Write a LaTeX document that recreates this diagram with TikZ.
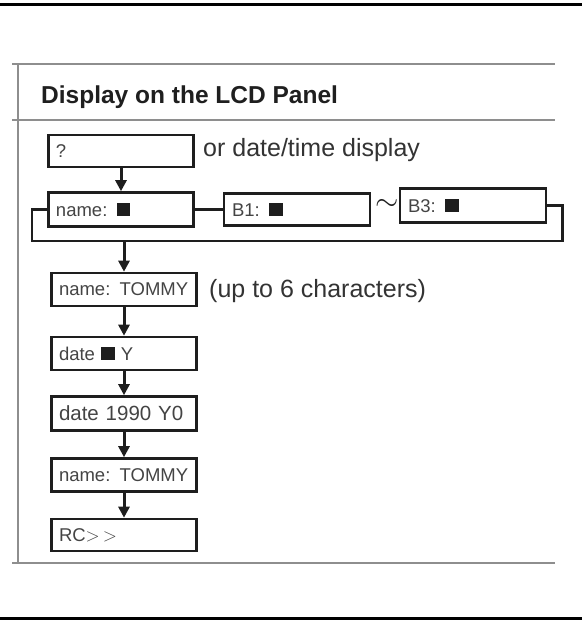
\RequirePackage{fix-cm}
\documentclass[tikz,border=0pt]{standalone}
\usepackage{fontspec}
\setmainfont{Liberation Sans}
\usetikzlibrary{arrows.meta}

\definecolor{cornice}{HTML}{8E8E8E}
\definecolor{bordo}{HTML}{1E1E1E}
\definecolor{testo}{HTML}{444444}
\newcommand{\cursore}{{\color{bordo}\rule{13.5pt}{13.5pt}}}

\begin{document}
\begin{tikzpicture}[x=1pt, y=-1pt,
  riquadro/.style={draw=bordo, line width=2.6pt, minimum width=145pt, minimum height=33pt,
    text width=130pt, align=left, inner sep=0pt, text=testo, font=\fontsize{18.5}{21}\selectfont},
  freccia/.style={draw=bordo, line width=3pt, -{Triangle[length=11pt,width=11pt]}},
  linea/.style={draw=bordo, line width=2.4pt},
  cornice/.style={draw=cornice, line width=2pt},
  didascalia/.style={anchor=base west, inner sep=0pt, text=black!80, font=\fontsize{25}{28}\selectfont}]
\useasboundingbox (0,0) rectangle (582,622);

% Bordi della pagina
\draw[line width=3.3pt] (0,4.5) -- (582,4.5);
\draw[line width=3.3pt] (0,618.5) -- (582,618.5);

% Cornice grigia
\draw[cornice] (12,64) -- (555,64);
\draw[cornice] (12,120) -- (555,120);
\draw[cornice] (18,64) -- (18,563);
\draw[cornice] (12,563) -- (555,563);

% Titolo
\node[anchor=base west, inner sep=0pt, text=black!88, font=\bfseries\fontsize{24.5}{28}\selectfont]
  (titolo) at (41,103) {Display on the LCD Panel};

% Riga superiore
\node[riquadro, minimum height=32pt] (domanda) at (121,151) {?};
\node[didascalia] (oppure) at (203,156) {or date/time display};

% Riga dei nomi: name, B1 ~ B3
\node[riquadro, minimum height=34pt] (nome) at (121,209.5) {name: \cursore};
\node[riquadro, minimum width=146pt, minimum height=32pt] (bituno) at (297,209.5) {B1: \cursore};
\node[text=bordo, inner sep=0pt, font=\fontsize{30}{30}\selectfont] (tilde) at (387,205) {$\sim$};
\node[riquadro, minimum width=146pt, minimum height=34pt] (bitre) at (473,205.5) {B3: \cursore};
\coordinate (anello) at (124,241);

\draw[freccia] (domanda) -- (nome);
\draw[linea] (nome.east) -- (bituno.west);
\draw[linea] (nome.west) -- ++(-15,0) |- (anello);
\draw[linea] (bitre.east) -- ++(15,0) |- (anello);

% Colonna centrale
\node[riquadro] (tommy) at (124,289.5) {name: TOMMY};
\node[didascalia] (caratteri) at (209,297) {(up to 6 characters)};
\node[riquadro] (datay) at (124,353.5) {date \cursore\ Y};
\node[riquadro, minimum height=34pt, font=\fontsize{20.5}{23}\selectfont] (anno) at (124,413.5) {date 1990 Y0};
\node[riquadro] (tommydue) at (124,475) {name: TOMMY};
\node[riquadro, minimum height=32pt] (rc) at (124,535) {RC$>$\,$>$};

\draw[freccia] (anello) -- (tommy);
\draw[freccia] (tommy) -- (datay);
\draw[freccia] (datay) -- (anno);
\draw[freccia] (anno) -- (tommydue);
\draw[freccia] (tommydue) -- (rc);
\end{tikzpicture}
\end{document}
